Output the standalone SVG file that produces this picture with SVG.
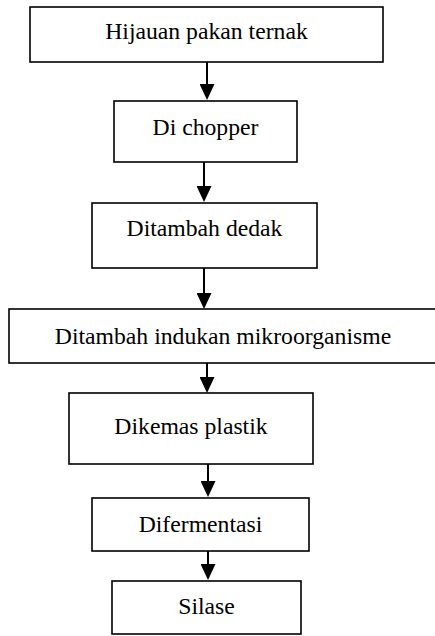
<svg xmlns="http://www.w3.org/2000/svg" width="435" height="636" viewBox="0 0 435 636">
  <style>
    .box { fill: #ffffff; stroke: #000000; stroke-width: 1.6; }
    .lbl { font-family: "Liberation Serif", "Times New Roman", serif; font-size: 23.7px; fill: #000000; text-anchor: middle; }
    .arrow { stroke: #000000; stroke-width: 2; fill: none; marker-end: url(#head); }
  </style>
  <defs>
    <marker id="head" markerUnits="userSpaceOnUse" markerWidth="16" markerHeight="15" refX="6" refY="7.5" orient="auto">
      <path d="M0,0 L16,7.5 L0,15 Z" fill="#000000"/>
    </marker>
  </defs>
  <rect width="435" height="636" fill="#ffffff"/>
  <g id="connectors">
    <path class="arrow" d="M207,62 L207,90"/>
    <path class="arrow" d="M204,162 L204,192"/>
    <path class="arrow" d="M204,268 L204,299"/>
    <path class="arrow" d="M207,363 L207,383"/>
    <path class="arrow" d="M208,464 L208,487"/>
    <path class="arrow" d="M208,551 L208,570"/>
  </g>
  <g id="n1">
    <rect class="box" x="30" y="7" width="353" height="55"/>
    <text class="lbl" x="206.5" y="38.5">Hijauan pakan ternak</text>
  </g>
  <g id="n2">
    <rect class="box" x="114" y="101" width="183" height="61"/>
    <text class="lbl" x="205.5" y="135">Di chopper</text>
  </g>
  <g id="n3">
    <rect class="box" x="92" y="203" width="225" height="65"/>
    <text class="lbl" x="204.5" y="235.5">Ditambah dedak</text>
  </g>
  <g id="n4">
    <rect class="box" x="9" y="309" width="440" height="54"/>
    <text class="lbl" x="223" y="343.5">Ditambah indukan mikroorganisme</text>
  </g>
  <g id="n5">
    <rect class="box" x="69" y="393" width="244" height="71"/>
    <text class="lbl" x="191" y="434">Dikemas plastik</text>
  </g>
  <g id="n6">
    <rect class="box" x="92" y="498" width="217" height="53"/>
    <text class="lbl" x="200.5" y="531.5">Difermentasi</text>
  </g>
  <g id="n7">
    <rect class="box" x="112" y="581" width="189" height="53"/>
    <text class="lbl" x="206.5" y="613.5">Silase</text>
  </g>
</svg>
